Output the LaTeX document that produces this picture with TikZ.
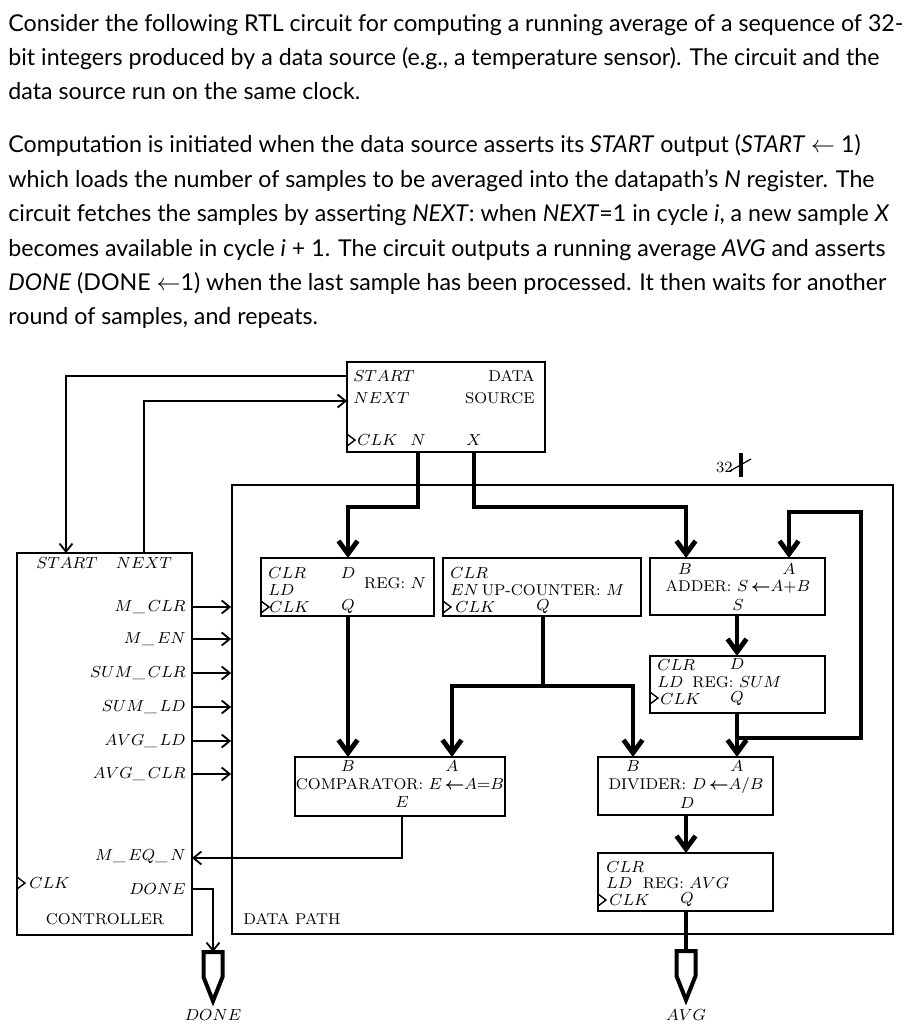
\documentclass[tikz,border=0pt]{standalone}
\usepackage{fontspec}
\usepackage{amsmath}
\usepackage{tikz}
\usetikzlibrary{arrows.meta}
\newfontfamily\latofont{Lato}

\begin{document}
\begin{tikzpicture}[x=0.5pt,y=-0.5pt,
  blk/.style={draw, line width=1.4pt, inner sep=0pt},
  lbl/.style={inner sep=0pt, font=\fontsize{7.8}{9}\selectfont},
  para/.style={inner sep=0pt, anchor=base west, font=\latofont\fontsize{11.6}{13}\selectfont},
  wire/.style={line width=0.9pt},
  wirearr/.style={wire, -{Straight Barb[length=4pt,width=6.5pt]}},
  bus/.style={line width=2.4pt},
  busarr/.style={bus, -{Straight Barb[length=6.5pt,width=9.5pt]}}]
\useasboundingbox (0,0) rectangle (914,1024);

% problem statement
\node[para] (p1) at (8,31) {Consider the following RTL circuit for computing a running average of a sequence of 32-};
\node[para] (p2) at (8,65) {bit integers produced by a data source (e.g., a temperature sensor). The circuit and the};
\node[para] (p3) at (8,99) {data source run on the same clock.};
\node[para] (p4) at (8,152) {Computation is initiated when the data source asserts its \textit{START} output (\textit{START} $\leftarrow$ 1)};
\node[para] (p5) at (8,187) {which loads the number of samples to be averaged into the datapath’s \textit{N} register. The};
\node[para] (p6) at (8,221) {circuit fetches the samples by asserting \textit{NEXT}: when \textit{NEXT}=1 in cycle \textit{i}, a new sample \textit{X}};
\node[para] (p7) at (8,256) {becomes available in cycle \textit{i} + 1. The circuit outputs a running average \textit{AVG} and asserts};
\node[para] (p8) at (8,290) {\textit{DONE} (DONE $\leftarrow$1) when the last sample has been processed. It then waits for another};
\node[para] (p9) at (8,324) {round of samples, and repeats.};

% blocks
\node[blk, minimum width=99pt, minimum height=45pt] (src) at (446,407) {};
\node[blk, minimum width=87.5pt, minimum height=191pt] (ctrl) at (104.5,744) {};
\node[draw, line width=0.9pt, inner sep=0pt, minimum width=330.5pt, minimum height=224.5pt] (dp) at (562.5,709.5) {};
\node[blk, minimum width=86.5pt, minimum height=29pt] (regn) at (347.5,587) {};
\node[blk, minimum width=99pt, minimum height=29pt] (cnt) at (542,587) {};
\node[blk, minimum width=87.5pt, minimum height=28.5pt] (add) at (737.5,586.5) {};
\node[blk, minimum width=87.5pt, minimum height=28.5pt] (regsum) at (737.5,684.5) {};
\node[blk, minimum width=105pt, minimum height=29.5pt] (cmp) at (400,786.5) {};
\node[blk, minimum width=87.5pt, minimum height=29pt] (div) at (685.5,786) {};
\node[blk, minimum width=87.5pt, minimum height=29pt] (regavg) at (685.5,882) {};

% clock inputs
\foreach \cx/\cy in {347/440, 17/883, 261/607, 443/607, 650/698, 598/900}
  \draw[line width=0.7pt] (\cx,\cy-6) -- (\cx+8,\cy) -- (\cx,\cy+6);

% data source
\node[lbl, anchor=west] (sS) at (353,376) {$START$};
\node[lbl, anchor=west] (sN) at (353,398) {$NEXT$};
\node[lbl, anchor=west] (sC) at (357,440) {$CLK$};
\node[lbl] (sNo) at (418,440) {$N$};
\node[lbl] (sXo) at (474,440) {$X$};
\node[lbl, anchor=east] (sD1) at (535,376) {DATA};
\node[lbl, anchor=east] (sD2) at (535,398) {SOURCE};

% controller
\node[lbl] (cS) at (67,563) {$START$};
\node[lbl] (cN) at (144,563) {$NEXT$};
\node[lbl, anchor=east] (c1) at (186,607) {$M\_\,CLR$};
\node[lbl, anchor=east] (c2) at (186,639) {$M\_\,EN$};
\node[lbl, anchor=east] (c3) at (186,673) {$SUM\_\,CLR$};
\node[lbl, anchor=east] (c4) at (186,707) {$SUM\_\,LD$};
\node[lbl, anchor=east] (c5) at (186,741) {$AVG\_\,LD$};
\node[lbl, anchor=east] (c6) at (186,774) {$AVG\_\,CLR$};
\node[lbl, anchor=east] (cEQ) at (186,857) {$M\_\,EQ\_\,N$};
\node[lbl, anchor=east] (cD) at (186,889) {$DONE$};
\node[lbl, anchor=west] (cC) at (29,883) {$CLK$};
\node[lbl] (cT) at (105,919) {CONTROLLER};
\node[lbl, anchor=west] (dT) at (243,919) {DATA PATH};

% REG N
\node[lbl, anchor=west] (nC) at (268,573) {$CLR$};
\node[lbl, anchor=west] (nL) at (268,590) {$LD$};
\node[lbl, anchor=west] (nK) at (269,607) {$CLK$};
\node[lbl] (nD) at (348,573) {$D$};
\node[lbl] (nQ) at (348,607) {$Q$};
\node[lbl] (nT) at (395,583) {REG: $N$};

% counter
\node[lbl, anchor=west] (mC) at (450,573) {$CLR$};
\node[lbl, anchor=west] (mE) at (450,590) {$EN$};
\node[lbl, anchor=west] (mK) at (455,607) {$CLK$};
\node[lbl] (mT) at (553,590) {UP-COUNTER: $M$};
\node[lbl] (mQ) at (543,607) {$Q$};

% adder
\node[lbl] (aB) at (685,569) {$B$};
\node[lbl] (aA) at (789,569) {$A$};
\node[lbl] (aT) at (738,587) {ADDER: $S\,{\boldsymbol{\leftarrow}}A{+}B$};
\node[lbl] (aS) at (738,605) {$S$};

% REG SUM
\node[lbl, anchor=west] (uC) at (657,665) {$CLR$};
\node[lbl, anchor=west] (uL) at (657,682) {$LD$};
\node[lbl, anchor=west] (uK) at (660,699) {$CLK$};
\node[lbl] (uD) at (737,664) {$D$};
\node[lbl] (uT) at (737,682) {REG: $SUM$};
\node[lbl] (uQ) at (737,699) {$Q$};

% comparator
\node[lbl] (eB) at (348,766) {$B$};
\node[lbl] (eA) at (452,766) {$A$};
\node[lbl] (eT) at (400,784) {COMPARATOR: $E\,{\boldsymbol{\leftarrow}}A{=}B$};
\node[lbl] (eE) at (402,802) {$E$};

% divider
\node[lbl] (vB) at (633,766) {$B$};
\node[lbl] (vA) at (737,766) {$A$};
\node[lbl] (vT) at (686,785) {DIVIDER: $D\,{\boldsymbol{\leftarrow}}A/B$};
\node[lbl] (vD) at (687,803) {$D$};

% REG AVG
\node[lbl, anchor=west] (gC) at (606,867) {$CLR$};
\node[lbl, anchor=west] (gL) at (606,883) {$LD$};
\node[lbl, anchor=west] (gK) at (609,900) {$CLK$};
\node[lbl] (gT) at (686,883) {REG: $AVG$};
\node[lbl] (gQ) at (687,900) {$Q$};

% ports
\coordinate (srcS) at (347,376);
\coordinate (srcNx) at (347,401);
\coordinate (srcN) at (418,452);
\coordinate (srcX) at (474,452);
\coordinate (ctrlS) at (66,553);
\coordinate (ctrlN) at (144,553);
\coordinate (ctrlEQ) at (192,858);
\coordinate (ctrlDone) at (192,889);
\coordinate (regnD) at (348,558);
\coordinate (regnQ) at (348,616);
\coordinate (cntQ) at (543,616);
\coordinate (addB) at (686,558);
\coordinate (addA) at (789,558);
\coordinate (addS) at (737,616);
\coordinate (regsumD) at (737,656);
\coordinate (regsumQ) at (737,713);
\coordinate (cmpB) at (348,757);
\coordinate (cmpA) at (452,757);
\coordinate (cmpE) at (402,816);
\coordinate (divB) at (633,757);
\coordinate (divA) at (737,757);
\coordinate (divD) at (686,815);
\coordinate (regavgD) at (686,853);
\coordinate (regavgQ) at (686,911);
\coordinate (fbk) at (861,512);
\coordinate (doneout) at (213,952);
\coordinate (avgout) at (686,951);

% connectors
\draw[wirearr] (srcS) -| (ctrlS);
\draw[wirearr] (ctrlN) |- (srcNx);
\draw[busarr] (srcN) -- ++(0,55) -| (regnD);
\draw[busarr] (srcX) -- ++(0,55) -| (addB);
\draw[busarr] (regnQ) -- (cmpB);
\draw[busarr] (cntQ) -- ++(0,70) -| (cmpA);
\draw[busarr] (cntQ) -- ++(0,70) -| (divB);
\draw[busarr] (addS) -- (regsumD);
\draw[busarr] (regsumQ) -- (divA);
\draw[busarr] (regsumQ) ++(0,25) -| (fbk) -| (addA);
\draw[busarr] (divD) -- (regavgD);
\draw[bus] (regavgQ) -- (avgout);
\draw[wirearr] (cmpE) |- (ctrlEQ);
\draw[wirearr] (ctrlDone) -| (doneout);
\foreach \y in {607,639,673,707,741,774}
  \draw[wirearr] (ctrl.east |- 0,\y) -- (dp.west |- 0,\y);

% 32-bit mark
\draw[bus] (741,453) -- (741,477);
\draw[line width=0.6pt] (730,471) -- (751,459);
\node[lbl, anchor=east] (bw) at (733,467) {32};

% outputs
\foreach \o in {avgout, doneout}
  \draw[line width=2pt] (\o) ++(-9.5,0) -- ++(19,0) -- ++(0,25) -- ++(-9.5,24) -- ++(-9.5,-24) -- cycle;
\node[lbl] (avglbl) at (686,1015) {$AVG$};
\node[lbl] (donelbl) at (213,1015) {$DONE$};
\end{tikzpicture}
\end{document}
